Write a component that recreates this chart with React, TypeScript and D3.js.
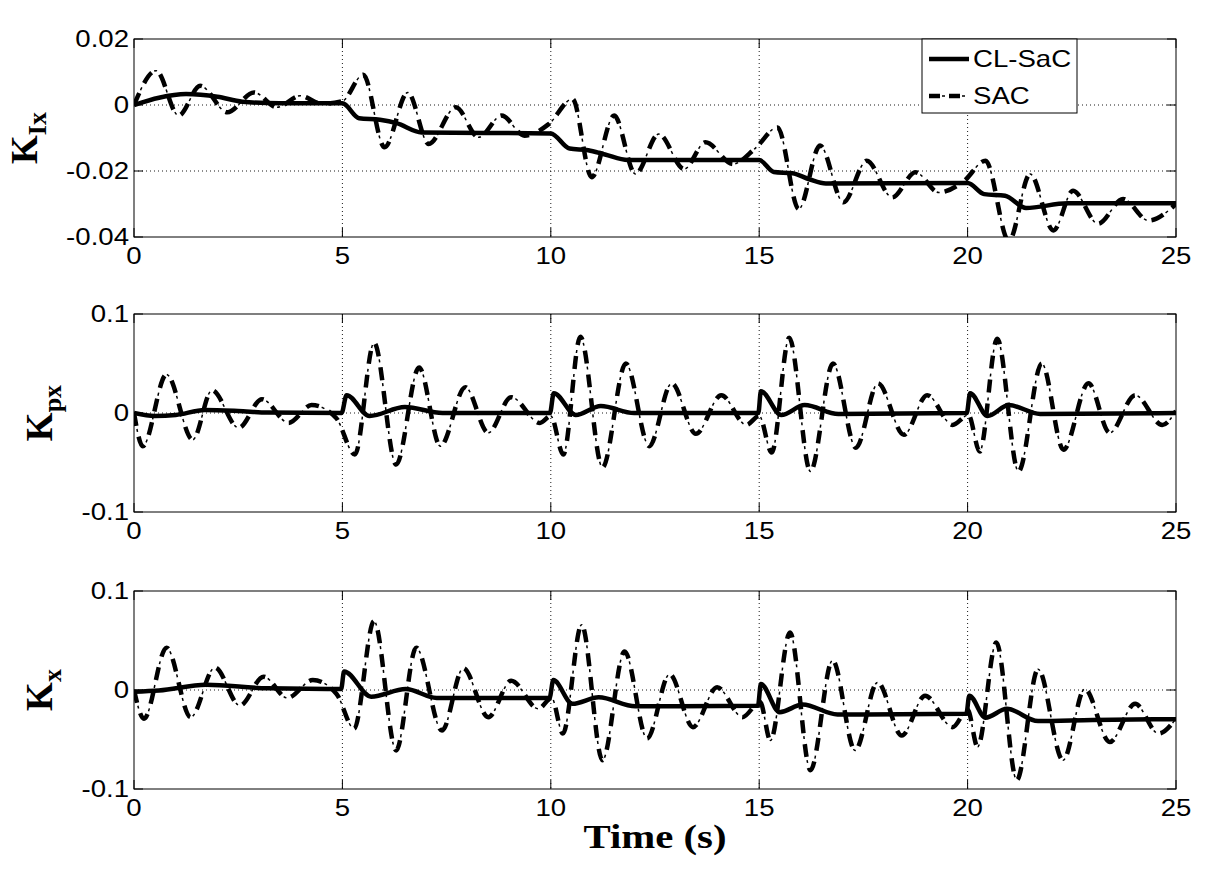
import { useEffect, useRef } from "react";
import * as d3 from "d3";

// time axis
const timeTicks = [0, 5, 10, 15, 20, 25];

// K_Ix panel
const kixTicks = [0.02, 0, -0.02, -0.04];
const kixTickLabels = ["0.02", "0", "-0.02", "-0.04"];
const kixClT = [0, 0.6, 1.25, 2.0, 2.6, 3.5, 5.0, 5.4, 5.9, 6.3, 6.9, 10.0, 10.45, 10.9, 11.3, 11.85, 15.0, 15.35, 15.8, 16.2, 16.6, 20.0, 20.4, 20.9, 21.4, 22.4, 25];
const kixClV = [0, 0.0022, 0.0033, 0.0025, 0.001, 0.0005, 0.0005, -0.004, -0.0045, -0.0055, -0.0083, -0.0086, -0.0132, -0.0137, -0.015, -0.0167, -0.0167, -0.0203, -0.0207, -0.0225, -0.0238, -0.0236, -0.027, -0.0275, -0.0312, -0.0298, -0.0298];
const kixSacT = [0, 0.53, 1.07, 1.59, 2.24, 2.88, 3.43, 3.99, 4.5, 5.0, 5.5, 6.01, 6.57, 7.07, 7.72, 8.27, 8.82, 9.37, 9.95, 10.52, 10.98, 11.52, 12.03, 12.59, 13.2, 13.71, 14.37, 14.9, 15.44, 15.95, 16.46, 17.02, 17.58, 18.19, 18.75, 19.31, 19.9, 20.43, 20.99, 21.5, 22.06, 22.53, 23.13, 23.73, 24.34, 25];
const kixSacV = [0, 0.0104, -0.0032, 0.0058, -0.0022, 0.0038, -0.0007, 0.0028, 0.0004, 0.0012, 0.0092, -0.0128, 0.0038, -0.0118, -0.0007, -0.0098, -0.0032, -0.0093, -0.0058, 0.0018, -0.0219, -0.0032, -0.0209, -0.0088, -0.0194, -0.0113, -0.0179, -0.0132, -0.0068, -0.0315, -0.0123, -0.0295, -0.0169, -0.028, -0.0204, -0.0265, -0.0232, -0.0169, -0.0412, -0.0209, -0.038, -0.026, -0.036, -0.0285, -0.035, -0.03];

// K_px panel
const kpxTicks = [0.1, 0, -0.1];
const kpxTickLabels = ["0.1", "0", "-0.1"];
const kpxClT = [0, 0.5, 1.0, 1.7, 2.5, 3.2, 4.98, 5.1, 5.65, 6.5, 7.4, 9.98, 10.07, 10.6, 11.2, 12.0, 14.98, 15.04, 15.53, 16.09, 16.9, 19.98, 20.06, 20.48, 20.99, 21.74, 25];
const kpxClV = [0, -0.003, -0.002, 0.003, 0.002, 0.0005, 0, 0.018, -0.003, 0.006, 0, 0, 0.02, -0.002, 0.007, 0, 0, 0.022, -0.002, 0.008, -0.001, 0, 0.02, -0.003, 0.008, -0.001, 0];
const kpxSacT = [0, 0.21, 0.78, 1.41, 1.87, 2.51, 3.07, 3.71, 4.26, 4.85, 5.3, 5.76, 6.29, 6.84, 7.35, 7.95, 8.5, 9.05, 9.74, 10.0, 10.3, 10.71, 11.24, 11.8, 12.36, 12.9, 13.48, 14.09, 14.69, 15.0, 15.3, 15.72, 16.23, 16.77, 17.32, 17.85, 18.47, 19.03, 19.64, 20.02, 20.29, 20.71, 21.22, 21.78, 22.3, 22.9, 23.41, 24.02, 24.67, 25];
const kpxSacV = [0, -0.0335, 0.039, -0.027, 0.023, -0.015, 0.014, -0.01, 0.008, -0.005, -0.042, 0.071, -0.052, 0.046, -0.0335, 0.026, -0.02, 0.016, -0.01, -0.003, -0.042, 0.077, -0.055, 0.05, -0.0335, 0.03, -0.021, 0.018, -0.012, -0.003, -0.04, 0.076, -0.059, 0.05, -0.035, 0.03, -0.022, 0.018, -0.012, -0.002, -0.039, 0.075, -0.059, 0.05, -0.037, 0.03, -0.02, 0.018, -0.012, 0.002];

// K_x panel
const kxTicks = [0.1, 0, -0.1];
const kxTickLabels = ["0.1", "0", "-0.1"];
const kxClT = [0, 0.6, 1.73, 3.2, 4.97, 5.04, 5.69, 6.52, 7.26, 9.97, 10.06, 10.52, 11.15, 12.03, 14.97, 15.04, 15.49, 16.04, 16.88, 19.97, 20.04, 20.43, 20.94, 21.69, 23.0, 25];
const kxClV = [-0.0017, -0.0005, 0.0053, 0.0017, 0.001, 0.0187, -0.0067, 0.001, -0.008, -0.008, 0.01, -0.014, -0.0074, -0.0164, -0.016, 0.006, -0.0224, -0.0147, -0.0247, -0.024, -0.0057, -0.028, -0.019, -0.0314, -0.0302, -0.0295];
const kxSacT = [0, 0.24, 0.78, 1.36, 1.94, 2.54, 3.11, 3.68, 4.29, 4.86, 5.28, 5.76, 6.29, 6.77, 7.39, 7.9, 8.5, 9.05, 9.7, 10.02, 10.29, 10.74, 11.24, 11.77, 12.31, 12.85, 13.41, 13.99, 14.6, 15.02, 15.27, 15.74, 16.23, 16.76, 17.3, 17.84, 18.42, 18.98, 19.64, 20.0, 20.24, 20.69, 21.18, 21.69, 22.29, 22.81, 23.41, 24.02, 24.58, 25];
const kxSacV = [0, -0.029, 0.0428, -0.0274, 0.0227, -0.0157, 0.0134, -0.008, 0.01, -0.004, -0.039, 0.0696, -0.061, 0.0428, -0.041, 0.022, -0.0274, 0.0094, -0.019, -0.008, -0.044, 0.066, -0.071, 0.039, -0.049, 0.016, -0.0375, 0.0027, -0.0274, -0.012, -0.051, 0.058, -0.081, 0.03, -0.061, 0.0077, -0.046, -0.0057, -0.0375, -0.02, -0.0575, 0.048, -0.091, 0.021, -0.071, 0.001, -0.0525, -0.014, -0.044, -0.029];

const seriesNames = ["CL-SaC", "SAC"];

const zip = (t: number[], v: number[]) => t.map((d, i) => [d, v[i]] as [number, number]);

const App = () => {
  const ref = useRef<SVGSVGElement>(null);

  useEffect(() => {
    document.body.style.margin = "0";
    if (!ref.current) return;
    const svg = d3.select(ref.current);
    svg.selectAll("*").remove();

    const left = 134;
    const right = 1176;
    const panelH = 198;
    const tickLen = 9;
    const sx = 1.2; // exported figure is stretched horizontally
    const sansFont = "Arial, 'Liberation Sans', sans-serif";
    const serifFont = "'Times New Roman', 'Liberation Serif', serif";

    const panels = [
      { top: 39, domain: [-0.04, 0.02], ticks: kixTicks, labels: kixTickLabels, sub: "Ix", labelX: 37, cl: zip(kixClT, kixClV), sac: zip(kixSacT, kixSacV) },
      { top: 314, domain: [-0.1, 0.1], ticks: kpxTicks, labels: kpxTickLabels, sub: "px", labelX: 52, cl: zip(kpxClT, kpxClV), sac: zip(kpxSacT, kpxSacV) },
      { top: 591, domain: [-0.1, 0.1], ticks: kxTicks, labels: kxTickLabels, sub: "x", labelX: 52, cl: zip(kxClT, kxClV), sac: zip(kxSacT, kxSacV) },
    ];

    const x = d3.scaleLinear().domain([0, 25]).range([left, right]);

    svg.append("rect").attr("width", 1209).attr("height", 873).attr("fill", "white");

    panels.forEach((p, pi) => {
      const bottom = p.top + panelH;
      const y = d3.scaleLinear().domain(p.domain).range([bottom, p.top]);
      const g = svg.append("g");

      const clipId = `clip-${pi}`;
      g.append("clipPath")
        .attr("id", clipId)
        .append("rect")
        .attr("x", left)
        .attr("y", p.top)
        .attr("width", right - left)
        .attr("height", panelH);

      // grid
      g.selectAll(".vgrid")
        .data(timeTicks.slice(1, -1))
        .enter()
        .append("line")
        .attr("x1", (d) => x(d))
        .attr("x2", (d) => x(d))
        .attr("y1", p.top)
        .attr("y2", bottom)
        .attr("stroke", "#000")
        .attr("stroke-width", 0.9)
        .attr("stroke-dasharray", "1,3");
      g.selectAll(".hgrid")
        .data(p.ticks.filter((d) => d > p.domain[0] && d < p.domain[1]))
        .enter()
        .append("line")
        .attr("x1", left)
        .attr("x2", right)
        .attr("y1", (d) => y(d))
        .attr("y2", (d) => y(d))
        .attr("stroke", "#000")
        .attr("stroke-width", 0.9)
        .attr("stroke-dasharray", "1,3");

      const line = d3
        .line<[number, number]>()
        .x((d) => x(d[0]))
        .y((d) => y(d[1]))
        .curve(d3.curveMonotoneX);

      const plot = g.append("g").attr("clip-path", `url(#${clipId})`);
      plot
        .append("path")
        .attr("d", line(p.cl))
        .attr("fill", "none")
        .attr("stroke", "#000")
        .attr("stroke-width", 4.5)
        .attr("stroke-linejoin", "round");
      plot
        .append("path")
        .attr("d", line(p.sac))
        .attr("fill", "none")
        .attr("stroke", "#000")
        .attr("stroke-width", 4.5)
        .attr("stroke-dasharray", "13,11");
      plot
        .append("path")
        .attr("d", line(p.sac))
        .attr("fill", "none")
        .attr("stroke", "#000")
        .attr("stroke-width", 1.5)
        .attr("stroke-dasharray", "0,16,3,5");

      // box
      g.append("rect")
        .attr("x", left)
        .attr("y", p.top)
        .attr("width", right - left)
        .attr("height", panelH)
        .attr("fill", "none")
        .attr("stroke", "#000")
        .attr("stroke-width", 1);

      // ticks
      timeTicks.forEach((t) => {
        g.append("line").attr("x1", x(t)).attr("x2", x(t)).attr("y1", bottom).attr("y2", bottom - tickLen).attr("stroke", "#000");
        g.append("line").attr("x1", x(t)).attr("x2", x(t)).attr("y1", p.top).attr("y2", p.top + tickLen).attr("stroke", "#000");
        g.append("text")
          .attr("transform", `translate(${x(t)},${bottom + 27}) scale(${sx},1)`)
          .attr("text-anchor", "middle")
          .attr("font-family", sansFont)
          .attr("font-size", 23)
          .text(String(t));
      });
      p.ticks.forEach((v, i) => {
        g.append("line").attr("x1", left).attr("x2", left + tickLen).attr("y1", y(v)).attr("y2", y(v)).attr("stroke", "#000");
        g.append("line").attr("x1", right).attr("x2", right - tickLen).attr("y1", y(v)).attr("y2", y(v)).attr("stroke", "#000");
        g.append("text")
          .attr("transform", `translate(${left - 5},${y(v) + 8}) scale(${sx},1)`)
          .attr("text-anchor", "end")
          .attr("font-family", sansFont)
          .attr("font-size", 23)
          .text(p.labels[i]);
      });

      // y label
      const yl = g
        .append("text")
        .attr("transform", `translate(${p.labelX},${(p.top + bottom) / 2}) rotate(-90)`)
        .attr("text-anchor", "middle")
        .attr("font-family", serifFont)
        .attr("font-weight", "bold")
        .attr("font-size", 37);
      yl.append("tspan").text("K");
      yl.append("tspan").attr("font-size", 26).attr("dy", 9).text(p.sub);

      if (pi === 0) {
        const lg = g.append("g");
        lg.append("rect")
          .attr("x", 922)
          .attr("y", p.top)
          .attr("width", 155)
          .attr("height", 74)
          .attr("fill", "white")
          .attr("stroke", "#000")
          .attr("stroke-width", 1);
        const rows = [p.top + 20, p.top + 57];
        lg.append("line").attr("x1", 929).attr("x2", 969).attr("y1", rows[0]).attr("y2", rows[0]).attr("stroke", "#000").attr("stroke-width", 4.5);
        lg.append("line").attr("x1", 929).attr("x2", 969).attr("y1", rows[1]).attr("y2", rows[1]).attr("stroke", "#000").attr("stroke-width", 4.5).attr("stroke-dasharray", "11,9");
        lg.append("line").attr("x1", 929).attr("x2", 969).attr("y1", rows[1]).attr("y2", rows[1]).attr("stroke", "#000").attr("stroke-width", 1.5).attr("stroke-dasharray", "0,13,3,4");
        seriesNames.forEach((name, i) => {
          lg.append("text")
            .attr("transform", `translate(973,${rows[i] + 8}) scale(${sx},1)`)
            .attr("font-family", sansFont)
            .attr("font-size", 23)
            .text(name);
        });
      }
    });

    svg.append("text")
      .attr("transform", `translate(${(left + right) / 2},848) scale(${sx},1)`)
      .attr("text-anchor", "middle")
      .attr("font-family", serifFont)
      .attr("font-weight", "bold")
      .attr("font-size", 34)
      .text("Time (s)");
  }, []);

  return <svg ref={ref} width={1209} height={873} style={{ display: "block" }}></svg>;
};

export default App;
